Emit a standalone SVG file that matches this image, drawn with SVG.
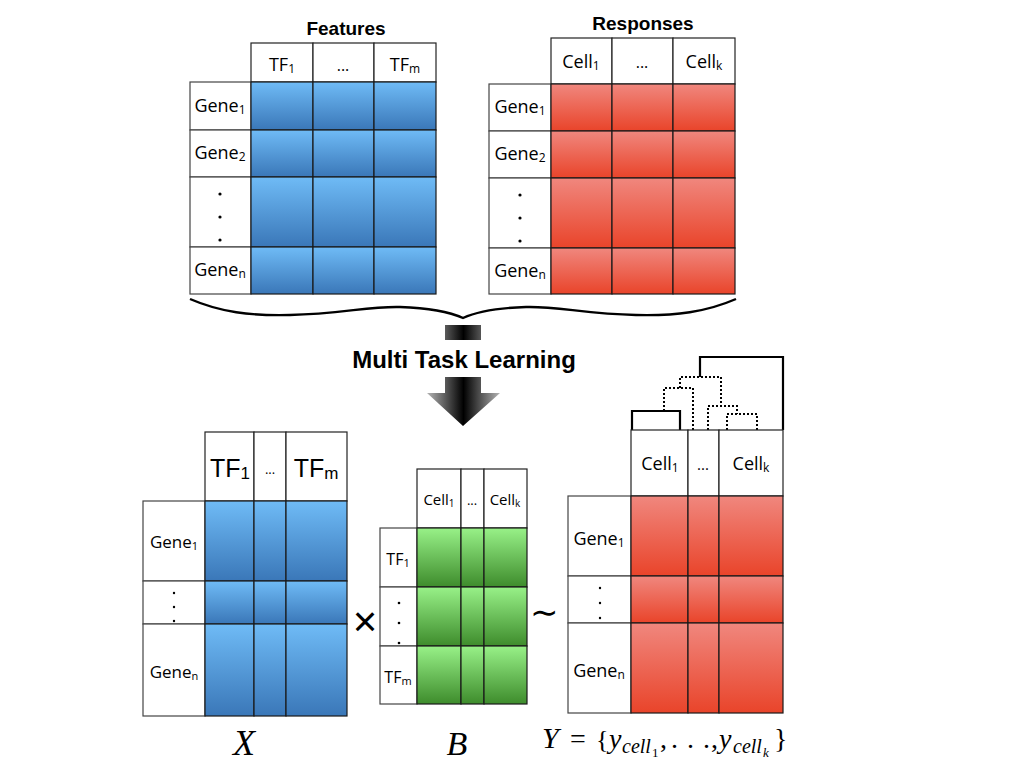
<svg xmlns="http://www.w3.org/2000/svg" width="1024" height="768" viewBox="0 0 1024 768">
<defs>
<linearGradient id="blue" x1="0" y1="0" x2="0" y2="1"><stop offset="0" stop-color="#6fbbf6"/><stop offset="1" stop-color="#3a77b8"/></linearGradient>
<linearGradient id="red" x1="0" y1="0" x2="0" y2="1"><stop offset="0" stop-color="#f0877e"/><stop offset="1" stop-color="#e9442a"/></linearGradient>
<linearGradient id="green" x1="0" y1="0" x2="0" y2="1"><stop offset="0" stop-color="#98f188"/><stop offset="1" stop-color="#3e8c2c"/></linearGradient>
<linearGradient id="arrowg" gradientUnits="userSpaceOnUse" x1="427" y1="0" x2="500" y2="0"><stop offset="0" stop-color="#b4b4b4"/><stop offset="0.5" stop-color="#000"/><stop offset="1" stop-color="#b4b4b4"/></linearGradient>
</defs>
<style>
.lab{fill:#fff;stroke:#444;stroke-width:1.2}
.hd{fill:#fff;stroke:#222;stroke-width:1.2}
.b{fill:url(#blue);stroke:#1a1a1a;stroke-width:1.2}
.r{fill:url(#red);stroke:#1a1a1a;stroke-width:1.2}
.g{fill:url(#green);stroke:#1a1a1a;stroke-width:1.2}
.t{font-family:"Open Sans",sans-serif;fill:#000;text-anchor:middle}
.a{font-family:"Liberation Sans",Arial,sans-serif;fill:#000;text-anchor:middle}
.title{font-family:"Liberation Sans",Arial,sans-serif;font-weight:bold;fill:#000;text-anchor:middle}
.m{font-family:"Liberation Serif","Times New Roman",serif;fill:#000}
.dend{fill:none;stroke:#000;stroke-width:2.2}
.dot{fill:none;stroke:#000;stroke-width:2;stroke-dasharray:2 2}
</style>
<rect width="1024" height="768" fill="#fff"/>

<g id="features">
<text class="title" x="346" y="35" font-size="19">Features</text>
<rect class="hd" x="251" y="43" width="62" height="39"/>
<rect class="hd" x="313" y="43" width="61" height="39"/>
<rect class="hd" x="374" y="43" width="62" height="39"/>
<text class="t" x="282" y="71" font-size="18">TF<tspan font-size="12" dy="2">1</tspan></text>
<text class="t" x="343" y="71" font-size="16">...</text>
<text class="t" x="405" y="71" font-size="18">TF<tspan font-size="12" dy="2">m</tspan></text>
<rect class="lab" x="190" y="82" width="61" height="48"/>
<rect class="lab" x="190" y="130" width="61" height="47"/>
<rect class="lab" x="190" y="177" width="61" height="70"/>
<rect class="lab" x="190" y="247" width="61" height="47"/>
<text class="t" x="220" y="112" font-size="18">Gene<tspan font-size="12" dy="2">1</tspan></text>
<text class="t" x="220" y="159" font-size="18">Gene<tspan font-size="12" dy="2">2</tspan></text>
<circle cx="220" cy="194" r="1.6"/><circle cx="220" cy="217" r="1.6"/><circle cx="220" cy="240" r="1.6"/>
<text class="t" x="220" y="276" font-size="18">Gene<tspan font-size="12" dy="2">n</tspan></text>
<rect class="b" x="251" y="82" width="62" height="48"/><rect class="b" x="313" y="82" width="61" height="48"/><rect class="b" x="374" y="82" width="62" height="48"/>
<rect class="b" x="251" y="130" width="62" height="47"/><rect class="b" x="313" y="130" width="61" height="47"/><rect class="b" x="374" y="130" width="62" height="47"/>
<rect class="b" x="251" y="177" width="62" height="70"/><rect class="b" x="313" y="177" width="61" height="70"/><rect class="b" x="374" y="177" width="62" height="70"/>
<rect class="b" x="251" y="247" width="62" height="47"/><rect class="b" x="313" y="247" width="61" height="47"/><rect class="b" x="374" y="247" width="62" height="47"/>
</g>

<g id="responses">
<text class="title" x="643" y="30" font-size="19">Responses</text>
<rect class="hd" x="551" y="38" width="61" height="46"/>
<rect class="hd" x="612" y="38" width="61" height="46"/>
<rect class="hd" x="673" y="38" width="62" height="46"/>
<text class="t" x="581" y="68" font-size="18">Cell<tspan font-size="12" dy="2">1</tspan></text>
<text class="t" x="642" y="68" font-size="16">...</text>
<text class="t" x="704" y="68" font-size="18">Cell<tspan font-size="12" dy="2">k</tspan></text>
<rect class="lab" x="489" y="84" width="62" height="47"/>
<rect class="lab" x="489" y="131" width="62" height="47"/>
<rect class="lab" x="489" y="178" width="62" height="70"/>
<rect class="lab" x="489" y="248" width="62" height="46"/>
<text class="t" x="520" y="113" font-size="18">Gene<tspan font-size="12" dy="2">1</tspan></text>
<text class="t" x="520" y="160" font-size="18">Gene<tspan font-size="12" dy="2">2</tspan></text>
<circle cx="520" cy="195" r="1.6"/><circle cx="520" cy="218" r="1.6"/><circle cx="520" cy="241" r="1.6"/>
<text class="t" x="520" y="277" font-size="18">Gene<tspan font-size="12" dy="2">n</tspan></text>
<rect class="r" x="551" y="84" width="61" height="47"/><rect class="r" x="612" y="84" width="61" height="47"/><rect class="r" x="673" y="84" width="62" height="47"/>
<rect class="r" x="551" y="131" width="61" height="47"/><rect class="r" x="612" y="131" width="61" height="47"/><rect class="r" x="673" y="131" width="62" height="47"/>
<rect class="r" x="551" y="178" width="61" height="70"/><rect class="r" x="612" y="178" width="61" height="70"/><rect class="r" x="673" y="178" width="62" height="70"/>
<rect class="r" x="551" y="248" width="61" height="46"/><rect class="r" x="612" y="248" width="61" height="46"/><rect class="r" x="673" y="248" width="62" height="46"/>
</g>

<g id="connectors">
<path d="M190,299 C220,312 250,316 290,315 C340,314 370,306 400,307 C430,308 450,312 463,318 C476,312 496,308 526,307 C556,306 586,314 636,315 C676,316 706,312 736,299" fill="none" stroke="#000" stroke-width="2.4"/>
<rect x="445" y="325" width="36" height="15" fill="url(#arrowg)"/>
<path d="M445,377 H481 V393 H500 L463,426 L427,393 H445 Z" fill="url(#arrowg)"/>
</g>
<text id="mtl" class="title" x="464" y="368" font-size="24">Multi Task Learning</text>

<g id="matrixX">
<rect class="hd" x="205" y="432" width="49" height="69"/>
<rect class="hd" x="254" y="432" width="32" height="69"/>
<rect class="hd" x="286" y="432" width="61" height="69"/>
<text class="a" x="230" y="477" font-size="25">TF<tspan font-size="17" dy="2">1</tspan></text>
<text class="t" x="270" y="474" font-size="13">...</text>
<text class="a" x="316" y="477" font-size="25">TF<tspan font-size="17" dy="2">m</tspan></text>
<rect class="lab" x="143" y="501" width="62" height="80"/>
<rect class="lab" x="143" y="581" width="62" height="43"/>
<rect class="lab" x="143" y="624" width="62" height="92"/>
<text class="t" x="174" y="548" font-size="17">Gene<tspan font-size="11" dy="2">1</tspan></text>
<circle cx="174" cy="593" r="1.2"/><circle cx="174" cy="607" r="1.2"/><circle cx="174" cy="621" r="1.2"/>
<text class="t" x="174" y="678" font-size="17">Gene<tspan font-size="11" dy="2">n</tspan></text>
<rect class="b" x="205" y="501" width="49" height="80"/><rect class="b" x="254" y="501" width="32" height="80"/><rect class="b" x="286" y="501" width="61" height="80"/>
<rect class="b" x="205" y="581" width="49" height="43"/><rect class="b" x="254" y="581" width="32" height="43"/><rect class="b" x="286" y="581" width="61" height="43"/>
<rect class="b" x="205" y="624" width="49" height="92"/><rect class="b" x="254" y="624" width="32" height="92"/><rect class="b" x="286" y="624" width="61" height="92"/>
<text class="m" x="244" y="755" font-size="36" font-style="italic" text-anchor="middle">X</text>
</g>

<text id="times" class="a" x="365" y="636" font-size="42">×</text>

<g id="matrixB">
<rect class="hd" x="417" y="469" width="44" height="59"/>
<rect class="hd" x="461" y="469" width="23" height="59"/>
<rect class="hd" x="484" y="469" width="43" height="59"/>
<text class="t" x="439" y="505" font-size="15">Cell<tspan font-size="10" dy="2">1</tspan></text>
<text class="t" x="472" y="505" font-size="13">...</text>
<text class="t" x="505" y="505" font-size="15">Cell<tspan font-size="10" dy="2">k</tspan></text>
<rect class="lab" x="380" y="528" width="37" height="59"/>
<rect class="lab" x="380" y="587" width="37" height="59"/>
<rect class="lab" x="380" y="646" width="37" height="58"/>
<text class="t" x="398" y="565" font-size="16">TF<tspan font-size="11" dy="2">1</tspan></text>
<circle cx="399" cy="603" r="1.3"/><circle cx="399" cy="623" r="1.3"/><circle cx="399" cy="643" r="1.3"/>
<text class="t" x="398" y="683" font-size="16">TF<tspan font-size="11" dy="2">m</tspan></text>
<rect class="g" x="417" y="528" width="44" height="59"/><rect class="g" x="461" y="528" width="23" height="59"/><rect class="g" x="484" y="528" width="43" height="59"/>
<rect class="g" x="417" y="587" width="44" height="59"/><rect class="g" x="461" y="587" width="23" height="59"/><rect class="g" x="484" y="587" width="43" height="59"/>
<rect class="g" x="417" y="646" width="44" height="58"/><rect class="g" x="461" y="646" width="23" height="58"/><rect class="g" x="484" y="646" width="43" height="58"/>
<text class="m" x="457" y="755" font-size="34" font-style="italic" text-anchor="middle">B</text>
</g>

<text id="tilde" class="m" x="544" y="624" font-size="34" text-anchor="middle">∼</text>

<g id="matrixY">
<path class="dend" d="M632,430 V411 H680 V430"/>
<path class="dend" d="M700,377 V357 H783 V430"/>
<path class="dot" d="M680,388 V377 H721 V406"/>
<path class="dot" d="M664,411 V388 H693 V430"/>
<path class="dot" d="M708,430 V406 H737 V414"/>
<path class="dot" d="M727,430 V414 H757 V430"/>
<rect class="hd" x="631" y="430" width="57" height="66"/>
<rect class="hd" x="688" y="430" width="31" height="66"/>
<rect class="hd" x="719" y="430" width="64" height="66"/>
<text class="t" x="660" y="470" font-size="18">Cell<tspan font-size="12" dy="2">1</tspan></text>
<text class="t" x="703" y="470" font-size="15">...</text>
<text class="t" x="751" y="470" font-size="18">Cell<tspan font-size="12" dy="2">k</tspan></text>
<rect class="lab" x="568" y="496" width="63" height="80"/>
<rect class="lab" x="568" y="576" width="63" height="47"/>
<rect class="lab" x="568" y="623" width="63" height="90"/>
<text class="t" x="599" y="545" font-size="18">Gene<tspan font-size="12" dy="2">1</tspan></text>
<circle cx="600" cy="588" r="1.2"/><circle cx="600" cy="603" r="1.2"/><circle cx="600" cy="618" r="1.2"/>
<text class="t" x="599" y="677" font-size="18">Gene<tspan font-size="12" dy="2">n</tspan></text>
<rect class="r" x="631" y="496" width="57" height="80"/><rect class="r" x="688" y="496" width="31" height="80"/><rect class="r" x="719" y="496" width="64" height="80"/>
<rect class="r" x="631" y="576" width="57" height="47"/><rect class="r" x="688" y="576" width="31" height="47"/><rect class="r" x="719" y="576" width="64" height="47"/>
<rect class="r" x="631" y="623" width="57" height="90"/><rect class="r" x="688" y="623" width="31" height="90"/><rect class="r" x="719" y="623" width="64" height="90"/>
<text class="m" font-size="28"><tspan x="542" y="748" font-style="italic" font-size="30">Y</tspan><tspan x="570" y="748">=</tspan><tspan x="596" y="748" font-size="26">{</tspan><tspan x="609" y="748" font-style="italic">y</tspan><tspan x="622" y="753" font-size="20" font-style="italic">cell</tspan><tspan x="652" y="757" font-size="13">1</tspan><tspan x="660" y="748">,</tspan><tspan x="671" y="748">.</tspan><tspan x="687" y="748">.</tspan><tspan x="703" y="748">.</tspan><tspan x="711" y="748">,</tspan><tspan x="719" y="748" font-style="italic">y</tspan><tspan x="733" y="753" font-size="20" font-style="italic">cell</tspan><tspan x="763" y="757" font-size="13" font-style="italic">k</tspan><tspan x="774" y="748">}</tspan></text>
</g>
</svg>
